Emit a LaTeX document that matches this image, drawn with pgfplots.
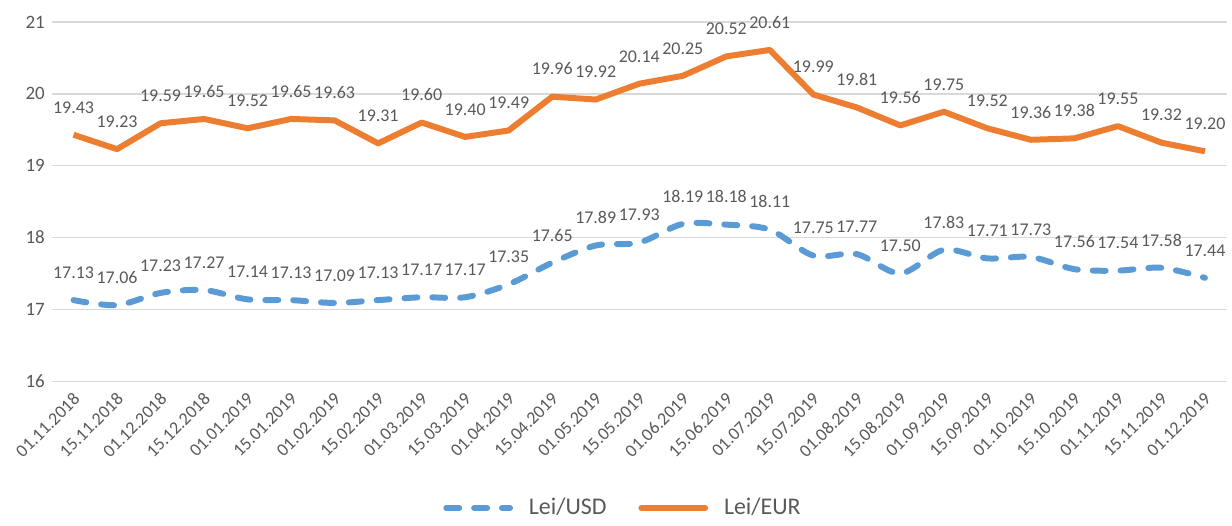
\documentclass[border=0pt]{standalone}
\usepackage{pgfplots}
\pgfplotsset{compat=1.18}
\usepackage{fontspec}
\setmainfont{Carlito}
\definecolor{cblue}{HTML}{5B9BD5}
\definecolor{corange}{HTML}{ED7D31}
\definecolor{cgrid}{HTML}{D9D9D9}
\definecolor{ctext}{HTML}{595959}
\begin{document}
\begin{tikzpicture}
\begin{axis}[
  name=ax,
  scale only axis,
  width=590pt, height=180.5pt,
  xmin=-0.5, xmax=26.5,
  ymin=16, ymax=21,
  ytick={16,17,18,19,20,21},
  xtick={0,...,26},
  xticklabels={01.11.2018,15.11.2018,01.12.2018,15.12.2018,01.01.2019,15.01.2019,01.02.2019,15.02.2019,01.03.2019,15.03.2019,01.04.2019,15.04.2019,01.05.2019,15.05.2019,01.06.2019,15.06.2019,01.07.2019,15.07.2019,01.08.2019,15.08.2019,01.09.2019,15.09.2019,01.10.2019,15.10.2019,01.11.2019,15.11.2019,01.12.2019},
  x tick label style={rotate=45, anchor=north east, font=\fontsize{9}{10}\selectfont, text=ctext, inner sep=1pt, xshift=-3pt, yshift=-2pt},
  y tick label style={font=\fontsize{9.5}{10}\selectfont, text=ctext},
  /pgf/number format/assume math mode=true,
  ymajorgrids,
  grid style={cgrid, line width=0.8pt},
  axis line style={draw=none},
  major tick length=0pt,
  clip=false,
  nodes near coords={\pgfmathprintnumber[fixed,fixed zerofill,precision=2]{\pgfplotspointmeta}},
  every node near coord/.append style={font=\fontsize{9}{10}\selectfont, text=ctext, anchor=south, yshift=6pt},
  legend style={at={(0.487,-0.352)}, anchor=center, draw=none, legend columns=2, font=\fontsize{12}{13}\selectfont, text=ctext,
    /tikz/every odd column/.append style={column sep=6pt},
    /tikz/every even column/.append style={column sep=14pt}},
  legend image code/.code={\draw[#1, line cap=round] (0pt,0pt) -- (32pt,0pt);},
]
\addplot[cblue, line width=3pt, smooth, tension=0.5, dash pattern=on 6.5pt off 7.5pt, line cap=round] coordinates {
(0,17.13) (1,17.06) (2,17.23) (3,17.27) (4,17.14) (5,17.13) (6,17.09) (7,17.13) (8,17.17) (9,17.17)
(10,17.35) (11,17.65) (12,17.89) (13,17.93) (14,18.19) (15,18.18) (16,18.11) (17,17.75) (18,17.77) (19,17.50)
(20,17.83) (21,17.71) (22,17.73) (23,17.56) (24,17.54) (25,17.58) (26,17.44)};
\addlegendentry{Lei/USD}
\addplot[corange, line width=3pt, line join=round] coordinates {
(0,19.43) (1,19.23) (2,19.59) (3,19.65) (4,19.52) (5,19.65) (6,19.63) (7,19.31) (8,19.60) (9,19.40)
(10,19.49) (11,19.96) (12,19.92) (13,20.14) (14,20.25) (15,20.52) (16,20.61) (17,19.99) (18,19.81) (19,19.56)
(20,19.75) (21,19.52) (22,19.36) (23,19.38) (24,19.55) (25,19.32) (26,19.20)};
\addlegendentry{Lei/EUR}
\end{axis}
\path (ax.south west) ++(-26pt,-68.5pt) coordinate (bl);
\path (ax.north east) ++(0pt,11pt) coordinate (tr);
\path[use as bounding box] (bl) rectangle (tr);
\end{tikzpicture}
\end{document}
